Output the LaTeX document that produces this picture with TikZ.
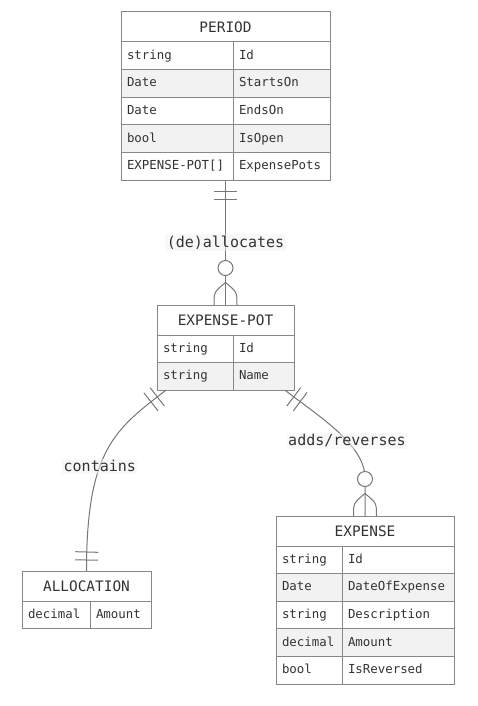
\documentclass[tikz,border=0pt]{standalone}
\usepackage{fontspec}
\setmonofont{DejaVu Sans Mono}
\usepackage{tikz}
\usetikzlibrary{calc,decorations.markings}
\definecolor{edge}{HTML}{888888}
\definecolor{wire}{HTML}{777777}
\definecolor{shade}{HTML}{F2F2F2}
\definecolor{ink}{HTML}{333333}
\newcommand{\attrfont}{\ttfamily\fontsize{12.4}{14}\selectfont}
\newcommand{\hdrfont}{\ttfamily\fontsize{14.4}{16}\selectfont}
\newcommand{\lblfont}{\ttfamily\fontsize{15}{17}\selectfont}
\tikzset{hdr/.style={draw=edge,fill=white,line width=1pt,anchor=north west,outer sep=0pt,inner sep=0pt,minimum height=30pt,font=\hdrfont,text=ink},
fld/.style={draw=edge,fill=white,line width=1pt,anchor=north west,outer sep=0pt,inner xsep=6pt,inner ysep=0pt,minimum height=27.6pt,text height=9.5pt,text depth=2.5pt,align=left,font=\attrfont,text=ink},
fldg/.style={fld,fill=shade},
rel/.style={draw=wire,line width=1pt},
lbl/.style={fill=shade,fill opacity=0.5,text opacity=1,inner sep=1.5pt,font=\lblfont,text=ink},
onefrom/.style={postaction={decorate,decoration={markings,mark=at position 11pt with {\draw[rel] (0,-11.5)--(0,11.5);},mark=at position 19pt with {\draw[rel] (0,-11.5)--(0,11.5);}}}},
oneto/.style={postaction={decorate,decoration={markings,mark=at position -19pt with {\draw[rel] (0,-11.5)--(0,11.5);},mark=at position -11pt with {\draw[rel] (0,-11.5)--(0,11.5);}}}},
manyto/.style={postaction={decorate,decoration={markings,mark=at position -37pt with {\draw[rel,fill=white] (0,0) circle (7.5pt);},mark=at position -22.5pt with {\draw[rel] (0,0) .. controls (9.5,11.5) .. (22.5,11.5) (0,0) .. controls (9.5,-11.5) .. (22.5,-11.5);}}}}}

\begin{document}
\begin{tikzpicture}[x=1pt,y=-1pt]
\useasboundingbox[fill=white] (0,0) rectangle (477,706);
% PERIOD
\node[hdr,minimum width=209pt] (per-h) at (121,12) {PERIOD};
\node[fld,text width=100pt] (per-k1) at (per-h.south west) {string};
\node[fld,text width=85pt] (per-v1) at (per-k1.north east) {Id};
\node[fldg,text width=100pt] (per-k2) at (per-k1.south west) {Date};
\node[fldg,text width=85pt] (per-v2) at (per-k2.north east) {StartsOn};
\node[fld,text width=100pt] (per-k3) at (per-k2.south west) {Date};
\node[fld,text width=85pt] (per-v3) at (per-k3.north east) {EndsOn};
\node[fldg,text width=100pt] (per-k4) at (per-k3.south west) {bool};
\node[fldg,text width=85pt] (per-v4) at (per-k4.north east) {IsOpen};
\node[fld,text width=100pt] (per-k5) at (per-k4.south west) {EXPENSE-POT[]};
\node[fld,text width=85pt] (per-v5) at (per-k5.north east) {ExpensePots};
% EXPENSE-POT
\node[hdr,minimum width=137pt] (pot-h) at (157,305) {EXPENSE-POT};
\node[fld,text width=64pt] (pot-k1) at (pot-h.south west) {string};
\node[fld,text width=49pt] (pot-v1) at (pot-k1.north east) {Id};
\node[fldg,text width=64pt] (pot-k2) at (pot-k1.south west) {string};
\node[fldg,text width=49pt] (pot-v2) at (pot-k2.north east) {Name};
% ALLOCATION
\node[hdr,minimum width=129pt] (all-h) at (22,571) {ALLOCATION};
\node[fld,text width=56pt] (all-k1) at (all-h.south west) {decimal};
\node[fld,text width=49pt] (all-v1) at (all-k1.north east) {Amount};
% EXPENSE
\node[hdr,minimum width=178pt] (exp-h) at (276,516) {EXPENSE};
\node[fld,text width=54pt] (exp-k1) at (exp-h.south west) {string};
\node[fld,text width=100pt] (exp-v1) at (exp-k1.north east) {Id};
\node[fldg,text width=54pt] (exp-k2) at (exp-k1.south west) {Date};
\node[fldg,text width=100pt] (exp-v2) at (exp-k2.north east) {DateOfExpense};
\node[fld,text width=54pt] (exp-k3) at (exp-k2.south west) {string};
\node[fld,text width=100pt] (exp-v3) at (exp-k3.north east) {Description};
\node[fldg,text width=54pt] (exp-k4) at (exp-k3.south west) {decimal};
\node[fldg,text width=100pt] (exp-v4) at (exp-k4.north east) {Amount};
\node[fld,text width=54pt] (exp-k5) at (exp-k4.south west) {bool};
\node[fld,text width=100pt] (exp-v5) at (exp-k5.north east) {IsReversed};
% relations
\draw[rel,onefrom,manyto] (per-h |- per-k5.south) -- node[lbl] (l-alloc) {(de)allocates} (pot-h.north);
\draw[rel,onefrom,oneto] ($(pot-k2.south west)+(9,0)$) .. controls +(-51,39) and +(0,-121) .. node[lbl,pos=0.6] (l-cont) {contains} (all-h.north);
\draw[rel,onefrom,manyto] ($(pot-v2.south east)+(-9,0)$) .. controls +(35,27) and +(0,-33) .. node[lbl,pos=0.6] (l-adds) {adds/reverses} ($(exp-h.north)+(0,-38)$) -- (exp-h.north);
\end{tikzpicture}
\end{document}
